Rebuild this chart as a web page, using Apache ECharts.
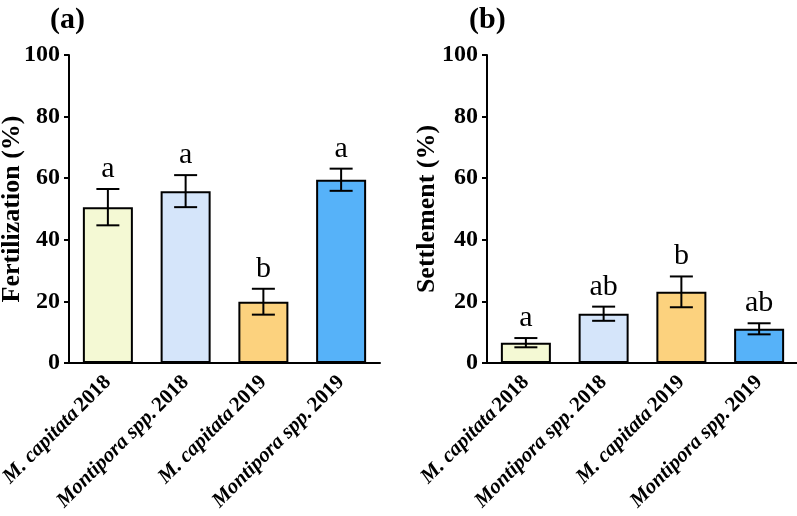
<!DOCTYPE html>
<html>
<head>
<meta charset="utf-8">
<script src="https://cdn.jsdelivr.net/npm/echarts@6/dist/echarts.min.js"></script>
<style>html,body{margin:0;padding:0;background:#fff}#c{width:797px;height:516px}</style>
</head>
<body>
<div id="c"></div>
<script>
var categories = ['M. capitata 2018', 'Montipora spp. 2018', 'M. capitata 2019', 'Montipora spp. 2019'];
var barColors = ['#f4f9d4', '#d5e5fa', '#fcd27e', '#56b2f9'];
var fertMean = [50.6, 55.8, 19.9, 59.5];
var fertErr = [5.9, 5.2, 4.2, 3.6];
var fertLetters = ['a', 'a', 'b', 'a'];
var settMean = [6.6, 16.0, 23.1, 11.1];
var settErr = [1.5, 2.3, 5.0, 1.8];
var settLetters = ['a', 'ab', 'b', 'ab'];
var yTicks = [0, 20, 40, 60, 80, 100];

var FONT = '"Liberation Serif", "Times New Roman", serif';
var chart = echarts.init(document.getElementById('c'), null, {renderer: 'canvas'});

function xAxis(gi) {
  return {
    gridIndex: gi, type: 'category', data: categories,
    axisLine: {lineStyle: {color: '#000', width: 2}},
    axisTick: {alignWithLabel: true, length: 6, lineStyle: {color: '#000', width: 2}},
    axisLabel: {
      rotate: 45, margin: 16, interval: 0, color: '#000',
      formatter: function (v) {
        var k = v.lastIndexOf(' ');
        return '{i|' + v.slice(0, k) + '} {n|' + v.slice(k + 1) + '}';
      },
      rich: {
        i: {fontFamily: FONT, fontSize: 21, fontWeight: 'bold', fontStyle: 'italic', color: '#000'},
        n: {fontFamily: FONT, fontSize: 21, fontWeight: 'bold', color: '#000'}
      }
    }
  };
}
function yAxis(gi, name, gap) {
  return {
    gridIndex: gi, type: 'value', min: yTicks[0], max: yTicks[yTicks.length - 1], interval: 20,
    name: name, nameLocation: 'middle', nameGap: gap, nameMoveOverlap: false,
    nameTextStyle: {fontFamily: FONT, fontSize: 26, fontWeight: 'bold', color: '#000'},
    axisLine: {show: true, lineStyle: {color: '#000', width: 2}},
    axisTick: {show: true, length: 5, lineStyle: {color: '#000', width: 2}},
    splitLine: {show: false},
    axisLabel: {fontFamily: FONT, fontSize: 24, fontWeight: 'bold', color: '#000', margin: 9}
  };
}
function barSeries(gi, means) {
  return {
    type: 'bar', xAxisIndex: gi, yAxisIndex: gi, barWidth: 50,
    data: means.map(function (v, i) {
      return {value: v, itemStyle: {color: barColors[i], borderColor: '#000', borderWidth: 2}};
    }),
    z: 2
  };
}
function errSeries(gi, means, errs) {
  return {
    type: 'custom', xAxisIndex: gi, yAxisIndex: gi, z: 3,
    data: means.map(function (v, i) { return [i, v, errs[i]]; }),
    renderItem: function (params, api) {
      var x = api.value(0), m = api.value(1), e = api.value(2);
      var top = api.coord([x, m + e]), bot = api.coord([x, m - e]);
      var hw = 11.5, st = {stroke: '#000', lineWidth: 2};
      return {type: 'group', children: [
        {type: 'line', shape: {x1: top[0], y1: top[1], x2: bot[0], y2: bot[1]}, style: st},
        {type: 'line', shape: {x1: top[0] - hw, y1: top[1], x2: top[0] + hw, y2: top[1]}, style: st},
        {type: 'line', shape: {x1: bot[0] - hw, y1: bot[1], x2: bot[0] + hw, y2: bot[1]}, style: st}
      ]};
    }
  };
}
function letterSeries(gi, means, errs, letters) {
  return {
    type: 'custom', xAxisIndex: gi, yAxisIndex: gi, z: 4,
    data: means.map(function (v, i) { return [i, v + errs[i]]; }),
    renderItem: function (params, api) {
      var p = api.coord([api.value(0), api.value(1)]);
      return {type: 'text', x: p[0], y: p[1] - 5, style: {
        text: letters[params.dataIndex], fill: '#000', font: '30px ' + FONT,
        textAlign: 'center', textVerticalAlign: 'bottom'
      }};
    }
  };
}

chart.setOption({
  animation: false,
  backgroundColor: '#fff',
  title: [
    {text: '(a)', left: 45, top: 0,
     textStyle: {fontFamily: FONT, fontSize: 30, fontWeight: 'bold', color: '#000'}},
    {text: '(b)', left: 464, top: 0,
     textStyle: {fontFamily: FONT, fontSize: 30, fontWeight: 'bold', color: '#000'}}
  ],
  grid: [
    {left: 69, top: 55, width: 311, height: 308, outerBoundsMode: 'none', containLabel: false},
    {left: 487, top: 55, width: 311, height: 308, outerBoundsMode: 'none', containLabel: false}
  ],
  xAxis: [xAxis(0), xAxis(1)],
  yAxis: [yAxis(0, 'Fertilization (%)', 44), yAxis(1, 'Settlement (%)', 47)],
  series: [
    barSeries(0, fertMean), errSeries(0, fertMean, fertErr), letterSeries(0, fertMean, fertErr, fertLetters),
    barSeries(1, settMean), errSeries(1, settMean, settErr), letterSeries(1, settMean, settErr, settLetters)
  ]
});
</script>
</body>
</html>
